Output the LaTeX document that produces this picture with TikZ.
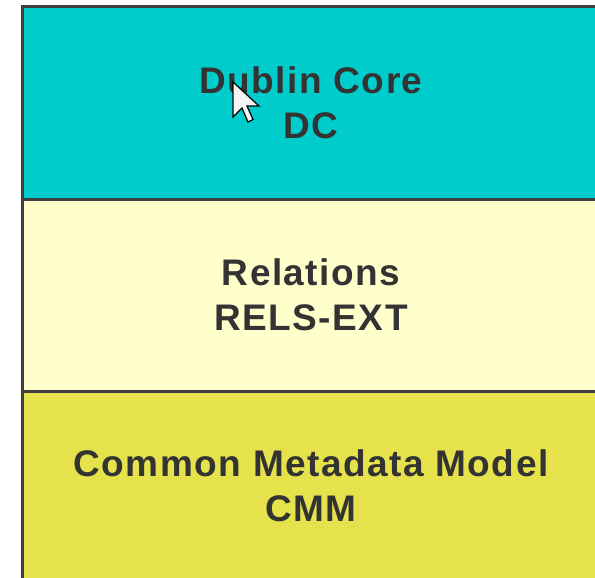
\documentclass[tikz,border=0pt]{standalone}
\usepackage{fontspec}
\setmainfont{Liberation Sans}
\definecolor{dccyan}{HTML}{00CCCC}
\definecolor{relyellow}{HTML}{FFFFCC}
\definecolor{cmmyellow}{HTML}{E5E24B}
\definecolor{edgegray}{HTML}{404040}
\definecolor{txtgray}{HTML}{333333}
\tikzset{
  layerbox/.style={draw=edgegray, line width=3pt, minimum width=578pt, inner sep=0pt,
    text=txtgray, align=center,
    font=\fontsize{37}{44.5}\selectfont\bfseries\addfontfeature{LetterSpace=4}},
  pointer/.style={fill=white!92!gray, draw=black, line width=1.2pt, line join=miter}
}
\begin{document}
\begin{tikzpicture}[x=1pt,y=-1pt]
\useasboundingbox (0,0) rectangle (595,578);
\clip (0,0) rectangle (595,578);
\node[layerbox, fill=cmmyellow, minimum height=190pt] (cmm) at (311,486) {Common Metadata Model\\CMM};
\node[layerbox, fill=relyellow, minimum height=192pt] (rels) at (311,295) {Relations\\RELS-EXT};
\node[layerbox, fill=dccyan, minimum height=192.5pt] (dc) at (311,103) {Dublin Core\\DC};
\draw[pointer] (233,82) -- (233,117) -- (242,108) -- (248,122) -- (253,119.5) -- (247,106) -- (259,106) -- cycle;
\end{tikzpicture}
\end{document}
